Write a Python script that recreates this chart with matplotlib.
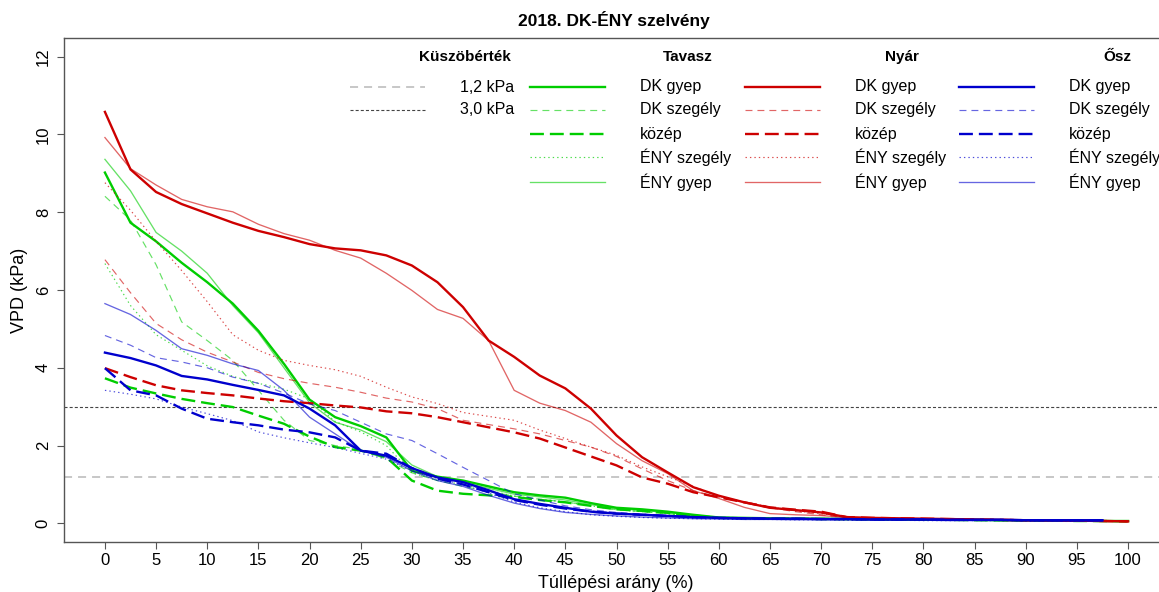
import numpy as np
import matplotlib
matplotlib.use("Agg")
import matplotlib.pyplot as plt

plt.rcParams["font.family"] = ["Liberation Sans", "DejaVu Sans"]
plt.rcParams["lines.scale_dashes"] = False

nan = np.nan

# tullepesi arany (%)
x_pct = [0, 2.5, 5, 7.5, 10, 12.5, 15, 17.5, 20, 22.5,
         25, 27.5, 30, 32.5, 35, 37.5, 40, 42.5, 45, 47.5,
         50, 52.5, 55, 57.5, 60, 62.5, 65, 67.5, 70, 72.5,
         75, 77.5, 80, 82.5, 85, 87.5, 90, 92.5, 95, 97.5, 100]

# Tavasz
tavasz_dk_gyep = [9.02, 7.73, 7.25, 6.70, 6.20, 5.65, 4.95, 4.10, 3.18, 2.73,
                  2.50, 2.21, 1.35, 1.20, 1.10, 0.95, 0.80, 0.72, 0.66, 0.52,
                  0.40, 0.36, 0.30, 0.22, 0.15, 0.14, 0.13, 0.12, 0.12, 0.11,
                  0.11, 0.10, 0.10, 0.09, 0.09, 0.08, 0.08, 0.07, 0.07, 0.06, 0.06]
tavasz_dk_szegely = [8.41, 7.80, 6.65, 5.18, 4.70, 4.19, 3.42, 2.65, 2.13, 2.00,
                     1.90, 1.65, 1.30, 1.10, 0.95, 0.82, 0.70, 0.62, 0.55, 0.45,
                     0.35, 0.30, 0.25, 0.18, 0.13, 0.12, 0.12, 0.11, 0.11, 0.10,
                     0.10, 0.09, 0.09, 0.08, 0.08, 0.07, 0.07, 0.06, 0.06, 0.05, 0.05]
tavasz_kozep = [3.73, 3.49, 3.34, 3.20, 3.09, 2.99, 2.77, 2.56, 2.23, 1.96,
                1.87, 1.70, 1.10, 0.84, 0.76, 0.72, 0.68, 0.60, 0.54, 0.45,
                0.36, 0.32, 0.27, 0.20, 0.14, 0.13, 0.12, 0.12, 0.11, 0.11,
                0.10, 0.10, 0.09, 0.09, 0.08, 0.08, 0.07, 0.07, 0.06, 0.06, 0.05]
tavasz_eny_szegely = [6.68, 5.60, 4.85, 4.45, 4.05, 3.78, 3.60, 3.45, 3.20, 2.62,
                      2.35, 2.00, 1.30, 1.10, 1.00, 0.85, 0.70, 0.62, 0.55, 0.45,
                      0.35, 0.30, 0.25, 0.18, 0.13, 0.12, 0.12, 0.11, 0.11, 0.10,
                      0.10, 0.09, 0.09, 0.08, 0.08, 0.07, 0.07, 0.06, 0.06, 0.05, 0.05]
tavasz_eny_gyep = [9.36, 8.55, 7.48, 7.00, 6.43, 5.60, 4.90, 4.00, 3.10, 2.60,
                   2.40, 2.10, 1.50, 1.20, 1.05, 0.90, 0.75, 0.68, 0.60, 0.48,
                   0.38, 0.33, 0.28, 0.20, 0.14, 0.13, 0.12, 0.12, 0.11, 0.11,
                   0.10, 0.10, 0.09, 0.09, 0.08, 0.08, 0.07, 0.07, 0.06, 0.06, 0.05]

# Nyar
nyar_dk_gyep = [10.58, 9.10, 8.52, 8.21, 7.97, 7.73, 7.52, 7.36, 7.18, 7.07,
                7.02, 6.89, 6.63, 6.20, 5.56, 4.70, 4.28, 3.80, 3.47, 2.95,
                2.26, 1.70, 1.31, 0.93, 0.71, 0.54, 0.40, 0.34, 0.28, 0.16,
                0.14, 0.13, 0.12, 0.11, 0.10, 0.09, 0.08, 0.08, 0.07, 0.06, 0.05]
nyar_dk_szegely = [6.78, 5.93, 5.14, 4.72, 4.40, 4.15, 3.88, 3.72, 3.60, 3.50,
                   3.37, 3.22, 3.12, 2.95, 2.65, 2.54, 2.43, 2.30, 2.13, 1.96,
                   1.72, 1.40, 1.10, 0.84, 0.67, 0.54, 0.40, 0.30, 0.22, 0.15,
                   0.14, 0.12, 0.11, 0.10, 0.09, 0.09, 0.08, 0.07, 0.07, 0.06, 0.05]
nyar_kozep = [3.99, 3.76, 3.55, 3.42, 3.35, 3.29, 3.21, 3.14, 3.09, 3.03,
              2.98, 2.88, 2.83, 2.73, 2.60, 2.47, 2.34, 2.18, 1.95, 1.72,
              1.49, 1.18, 1.02, 0.80, 0.67, 0.54, 0.41, 0.35, 0.30, 0.16,
              0.14, 0.13, 0.12, 0.11, 0.10, 0.09, 0.08, 0.08, 0.07, 0.06, 0.05]
nyar_eny_szegely = [8.76, 8.05, 7.25, 6.50, 5.70, 4.85, 4.45, 4.19, 4.06, 3.95,
                    3.78, 3.50, 3.25, 3.08, 2.85, 2.75, 2.65, 2.40, 2.18, 1.96,
                    1.75, 1.45, 1.20, 0.95, 0.70, 0.55, 0.42, 0.32, 0.25, 0.15,
                    0.14, 0.12, 0.11, 0.10, 0.09, 0.09, 0.08, 0.07, 0.07, 0.06, 0.05]
nyar_eny_gyep = [9.92, 9.12, 8.70, 8.33, 8.14, 8.01, 7.69, 7.45, 7.28, 7.02,
                 6.82, 6.43, 5.99, 5.50, 5.27, 4.70, 3.42, 3.09, 2.90, 2.60,
                 2.05, 1.61, 1.28, 0.84, 0.64, 0.41, 0.25, 0.22, 0.20, 0.15,
                 0.13, 0.12, 0.11, 0.10, 0.09, 0.09, 0.08, 0.07, 0.07, 0.06, 0.05]

# Osz
osz_dk_gyep = [4.39, 4.25, 4.06, 3.79, 3.70, 3.56, 3.43, 3.29, 2.95, 2.52,
               1.87, 1.74, 1.42, 1.18, 1.06, 0.85, 0.62, 0.50, 0.40, 0.30,
               0.25, 0.22, 0.19, 0.16, 0.14, 0.13, 0.12, 0.12, 0.11, 0.11,
               0.10, 0.10, 0.10, 0.09, 0.09, 0.09, 0.08, 0.08, 0.08, 0.08, nan]
osz_dk_szegely = [4.83, 4.58, 4.26, 4.15, 4.00, 3.76, 3.60, 3.35, 3.07, 2.90,
                  2.60, 2.30, 2.13, 1.79, 1.44, 1.10, 0.76, 0.60, 0.45, 0.35,
                  0.28, 0.24, 0.20, 0.17, 0.15, 0.13, 0.12, 0.12, 0.11, 0.11,
                  0.10, 0.10, 0.10, 0.09, 0.09, 0.09, 0.08, 0.08, 0.08, 0.07, nan]
osz_kozep = [3.99, 3.42, 3.29, 2.95, 2.69, 2.60, 2.52, 2.41, 2.34, 2.21,
             1.87, 1.79, 1.42, 1.15, 1.00, 0.80, 0.60, 0.48, 0.38, 0.30,
             0.25, 0.22, 0.19, 0.16, 0.14, 0.13, 0.12, 0.12, 0.11, 0.11,
             0.10, 0.10, 0.10, 0.09, 0.09, 0.09, 0.08, 0.08, 0.08, 0.08, nan]
osz_eny_szegely = [3.42, 3.32, 3.20, 2.99, 2.82, 2.64, 2.35, 2.20, 2.07, 1.95,
                   1.80, 1.65, 1.35, 1.15, 1.00, 0.78, 0.55, 0.40, 0.30, 0.22,
                   0.18, 0.15, 0.13, 0.12, 0.11, 0.10, 0.10, 0.09, 0.09, 0.08,
                   0.08, 0.08, 0.07, 0.07, 0.07, 0.07, 0.06, 0.06, 0.06, 0.06, nan]
osz_eny_gyep = [5.65, 5.37, 4.96, 4.49, 4.32, 4.10, 3.93, 3.42, 2.73, 2.30,
                1.87, 1.70, 1.35, 1.10, 0.95, 0.72, 0.52, 0.38, 0.28, 0.23,
                0.19, 0.16, 0.14, 0.12, 0.11, 0.10, 0.10, 0.09, 0.09, 0.09,
                0.08, 0.08, 0.08, 0.07, 0.07, 0.07, 0.07, 0.06, 0.06, 0.06, nan]

thresholds = [1.2, 3.0]
threshold_labels = ["1,2 kPa", "3,0 kPa"]
season_names = ["Tavasz", "Nyár", "Ősz"]
site_names = ["DK gyep", "DK szegély", "közép", "ÉNY szegély", "ÉNY gyep"]

seasons = [
    ("#00CD00", [tavasz_dk_gyep, tavasz_dk_szegely, tavasz_kozep, tavasz_eny_szegely, tavasz_eny_gyep]),
    ("#CD0000", [nyar_dk_gyep, nyar_dk_szegely, nyar_kozep, nyar_eny_szegely, nyar_eny_gyep]),
    ("#0000CD", [osz_dk_gyep, osz_dk_szegely, osz_kozep, osz_eny_szegely, osz_eny_gyep]),
]

# line style per site: (linewidth, dashes, alpha)
site_styles = [
    dict(lw=1.7, dashes=(None, None), alpha=1.0),
    dict(lw=0.85, dashes=(5.0, 3.6), alpha=0.6),
    dict(lw=1.7, dashes=(10.0, 4.3), alpha=1.0),
    dict(lw=0.85, dashes=(1.0, 2.2), alpha=0.7),
    dict(lw=0.95, dashes=(None, None), alpha=0.6),
]
thr_styles = [
    dict(color="#BEBEBE", lw=1.2, dashes=(5.8, 4.3)),
    dict(color="#444444", lw=0.8, dashes=(2.2, 1.5)),
]

W, H = 1159, 592
fig = plt.figure(figsize=(W / 100, H / 100), dpi=100)
ax = fig.add_axes([64 / W, 50 / H, 1105 / W, 504 / H])


def fpos(px, py):
    return px / W, 1 - py / H


def styled(line, st):
    if st["dashes"][0] is not None:
        line.set_dashes(st["dashes"])
    return line


for y, st in zip(thresholds, thr_styles):
    ln = ax.axhline(y, color=st["color"], lw=st["lw"])
    styled(ln, st)

for color, series in seasons:
    for vals, st in zip(series, site_styles):
        ln, = ax.plot(x_pct, vals, color=color, lw=st["lw"], alpha=st["alpha"])
        styled(ln, st)

ax.set_xlim(-4, 104)
ax.set_ylim(-0.48, 12.48)
ax.set_xticks(np.arange(0, 101, 5))
ax.set_yticks(np.arange(0, 13, 2))
ax.tick_params(axis="both", length=5, width=0.8, color="#555555", labelsize=12)
ax.tick_params(axis="x", pad=3)
ax.tick_params(axis="y", pad=4.5, labelrotation=90)
for lab in ax.get_yticklabels():
    lab.set_va("center")
for sp in ax.spines.values():
    sp.set_color("#555555")
    sp.set_linewidth(1.0)

fig.text(*fpos(614, 20), "2018. DK-ÉNY szelvény", ha="center", va="center",
         fontsize=12.5, fontweight="bold")
fig.text(*fpos(616, 583), "Túllépési arány (%)", ha="center", va="center", fontsize=13)
fig.text(*fpos(20, 290), "VPD (kPa)", ha="center", va="center", fontsize=13, rotation=90)

# legend, drawn column by column
row_y = [87, 110, 134, 157, 182]
head_y = 57
seg = 75


def legend_line(x0, y0, color, st, alpha=1.0):
    ln, = ax.plot([x0 / W, (x0 + seg) / W], [1 - y0 / H, 1 - y0 / H],
                  transform=fig.transFigure, clip_on=False, color=color,
                  lw=st["lw"], alpha=alpha)
    styled(ln, st)


fig.text(*fpos(465, head_y), "Küszöbérték", ha="center", va="center",
         fontsize=11, fontweight="bold")
for i, (lab, st) in enumerate(zip(threshold_labels, thr_styles)):
    legend_line(350, row_y[i], st["color"], st)
    fig.text(*fpos(460, row_y[i]), lab, ha="left", va="center", fontsize=11.5)

col_x = [530, 745, 959]
head_x = [688, 902, 1117]
for (color, _), name, x0, hx in zip(seasons, season_names, col_x, head_x):
    fig.text(*fpos(hx, head_y), name, ha="center", va="center",
             fontsize=11, fontweight="bold")
    for i, (site, st) in enumerate(zip(site_names, site_styles)):
        legend_line(x0, row_y[i], color, st, st["alpha"])
        fig.text(*fpos(x0 + 110, row_y[i]), site, ha="left", va="center", fontsize=11.5)

fig.savefig("out.png", dpi=100)
